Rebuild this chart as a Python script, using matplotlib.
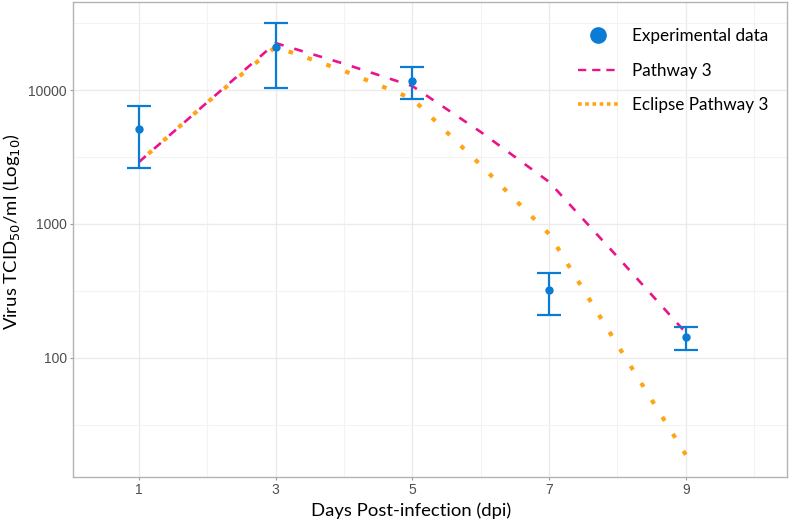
import matplotlib
matplotlib.use("Agg")
import matplotlib.pyplot as plt
from matplotlib.lines import Line2D
from matplotlib.ticker import FixedLocator, NullFormatter
import numpy as np

# experimental data (mean with error bar limits)
exp_days = [1, 3, 5, 7, 9]
exp_mean = [5100, 20900, 11700, 320, 143]
exp_low = [2620, 10350, 8570, 209, 115]
exp_high = [7600, 31600, 14900, 430, 170]

# model curves
model_days = [1, 2, 3, 4, 5, 6, 7, 8, 9]
pathway3 = [2900, 8100, 22400, 15700, 10700, 4860, 2060, 568, 154]
eclipse3 = [2900, 8100, 21000, 13900, 8600, 2750, 841, 125, 18.9]

x_ticks = [1, 3, 5, 7, 9]
y_ticks = [100, 1000, 10000]

blue = "#0A7CD3"
pink = "#EC138A"
orange = "#FFA414"
grid_col = "#EBEBEB"

fig = plt.figure(figsize=(7.89, 5.25), dpi=100)
ax = fig.add_axes([73 / 789, 48 / 525, 714 / 789, 475 / 525])

ax.set_yscale("log")
ax.set_xlim(0.035, 10.48)
ax.set_ylim(12.9, 45400)

# grid like ggplot: major + minor (half-steps)
ax.xaxis.set_major_locator(FixedLocator(x_ticks))
ax.xaxis.set_minor_locator(FixedLocator([2, 4, 6, 8, 10]))
ax.yaxis.set_major_locator(FixedLocator(y_ticks))
ax.yaxis.set_minor_locator(FixedLocator([10 ** 1.5, 10 ** 2.5, 10 ** 3.5, 10 ** 4.5]))
ax.yaxis.set_minor_formatter(NullFormatter())
ax.set_yticklabels([str(v) for v in y_ticks])
ax.set_xticklabels([str(v) for v in x_ticks])
ax.grid(which="major", color=grid_col, lw=1.0)
ax.grid(which="minor", color="#F3F3F3", lw=0.8)
ax.set_axisbelow(True)
ax.tick_params(which="minor", length=0)
ax.tick_params(which="major", length=2.5, width=0.8, pad=1.8, color="#999999",
               labelcolor="#4D4D4D", labelsize=10)
for lab in ax.get_xticklabels() + ax.get_yticklabels():
    lab.set_fontfamily("Liberation Sans")
for s in ax.spines.values():
    s.set_color("#B3B3B3")
    s.set_linewidth(1.0)

# drawn from day 9 backwards so a dot sits at the last point
ax.plot(model_days[::-1], eclipse3[::-1], color=orange, lw=3.0,
        linestyle=(0, (1.1, 3.7)), zorder=2)
ax.plot(model_days, pathway3, color=pink, lw=1.9, linestyle=(0, (3.4, 4.2)), zorder=3)

yerr = [np.array(exp_mean) - np.array(exp_low), np.array(exp_high) - np.array(exp_mean)]
ax.errorbar(exp_days, exp_mean, yerr=yerr, fmt="o", color=blue, ms=5,
            elinewidth=1.6, capsize=8.5, capthick=1.6, zorder=4)

ax.set_xlabel("Days Post-infection (dpi)", fontsize=13.3, family="Lato")
ax.set_ylabel("Virus TCID$_{50}$/ml (Log$_{10}$)", fontsize=13.3, family="Lato")
ax.xaxis.set_label_coords(0.473, -0.053)
ax.yaxis.set_label_coords(-0.071, 0.516)

handles = [
    Line2D([], [], marker="o", color=blue, linestyle="none", ms=11),
    Line2D([], [], color=pink, lw=1.7, linestyle=(0, (3.5, 2.5))),
    Line2D([], [], color=orange, lw=2.6, linestyle=(0, (1.0, 1.0))),
]
labels = ["Experimental data", "Pathway 3", "Eclipse Pathway 3"]
ax.legend(handles, labels, loc="upper left", bbox_to_anchor=(0.707, 0.945),
          frameon=False, prop={"family": "Lato", "size": 12.3},
          handlelength=2.35, handletextpad=0.8, labelspacing=1.09,
          borderaxespad=0, borderpad=0)

fig.savefig("out.png", dpi=100)
